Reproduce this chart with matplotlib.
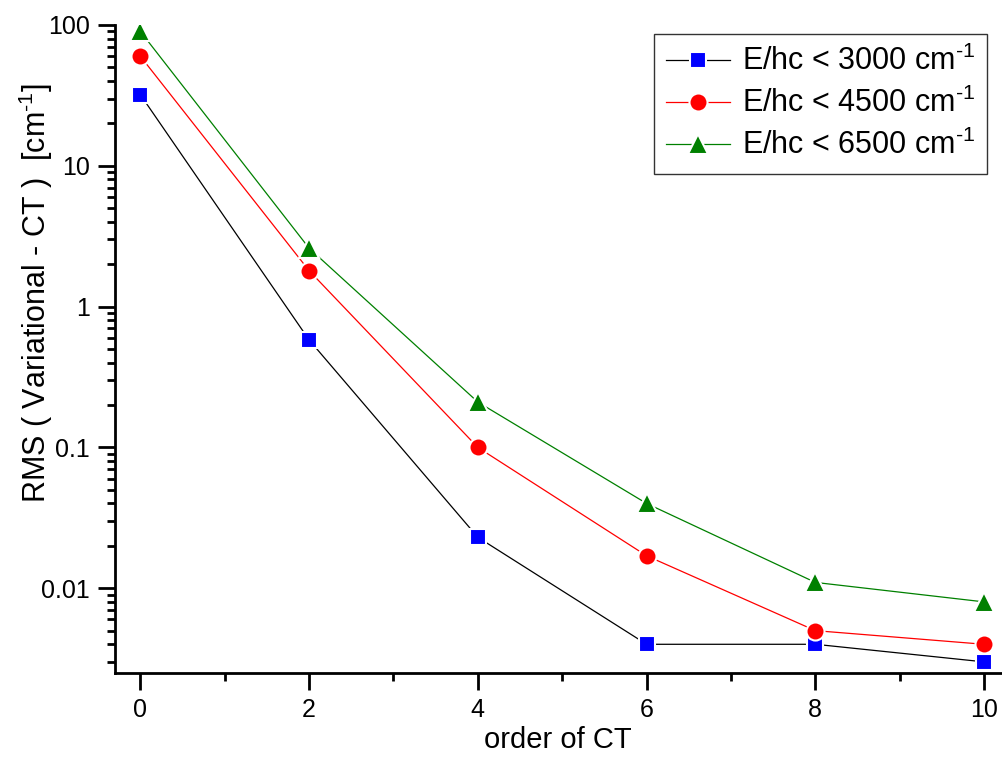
import matplotlib.pyplot as plt
from matplotlib.ticker import LogLocator, MultipleLocator, FixedLocator, NullFormatter

plt.rcParams['font.family'] = ['Liberation Sans', 'DejaVu Sans']
plt.rcParams['mathtext.fontset'] = 'custom'
plt.rcParams['mathtext.rm'] = 'Liberation Sans'
plt.rcParams['mathtext.it'] = 'Liberation Sans'
plt.rcParams['mathtext.default'] = 'regular'

# data
order = [0, 2, 4, 6, 8, 10]
rms_3000 = [32, 0.58, 0.023, 0.004, 0.004, 0.003]
rms_4500 = [60, 1.8, 0.1, 0.017, 0.005, 0.004]
rms_6500 = [90, 2.6, 0.21, 0.04, 0.011, 0.008]
labels = [r'E/hc < 3000 cm$^{\text{-1}}$', r'E/hc < 4500 cm$^{\text{-1}}$',
          r'E/hc < 6500 cm$^{\text{-1}}$']

fig = plt.figure(figsize=(10.03, 7.69), dpi=100)
ax = fig.add_axes([0.1147, 0.1248, 0.8833, 0.8427])

ax.plot(order, rms_3000, '-', color='black', lw=0.9, marker='s', ms=11,
        mfc='blue', mec='white', mew=1.5, label=labels[0])
ax.plot(order, rms_4500, '-', color='red', lw=0.9, marker='o', ms=13,
        mfc='red', mec='white', mew=1.5, label=labels[1])
ax.plot(order, rms_6500, '-', color='green', lw=0.9, marker='^', ms=14,
        mfc='green', mec='white', mew=1.5, label=labels[2])

ax.set_yscale('log')
ax.set_ylim(0.0025, 100)
ax.set_xlim(-0.3, 10.2)

ax.xaxis.set_major_locator(FixedLocator(order))
ax.xaxis.set_minor_locator(MultipleLocator(1))
ax.yaxis.set_minor_locator(LogLocator(base=10, subs=range(2, 10), numticks=20))
ax.yaxis.set_minor_formatter(NullFormatter())
ax.set_yticks([0.01, 0.1, 1, 10, 100])
ax.set_yticklabels(['0.01', '0.1', '1', '10', '100'])

for s in ['top', 'right']:
    ax.spines[s].set_visible(False)
for s in ['left', 'bottom']:
    ax.spines[s].set_linewidth(2)

ax.tick_params(which='major', direction='out', length=12, width=2, labelsize=18, pad=6)
ax.tick_params(which='minor', direction='out', length=6, width=2)

ax.set_xlabel('order of CT', fontsize=21, labelpad=3)
ax.set_ylabel(r'RMS ( Variational - CT )  [cm$^{\text{-1}}$]', fontsize=22)
ax.yaxis.set_label_coords(-0.068, 0.586)

leg = ax.legend(loc='upper right', bbox_to_anchor=(1.002, 1.01), fontsize=22,
                frameon=True, fancybox=False, edgecolor='black',
                handlelength=2.1, borderpad=0.4, labelspacing=0.35, handletextpad=0.4)
leg.get_frame().set_linewidth(1)

fig.savefig('out.png', dpi=100)
